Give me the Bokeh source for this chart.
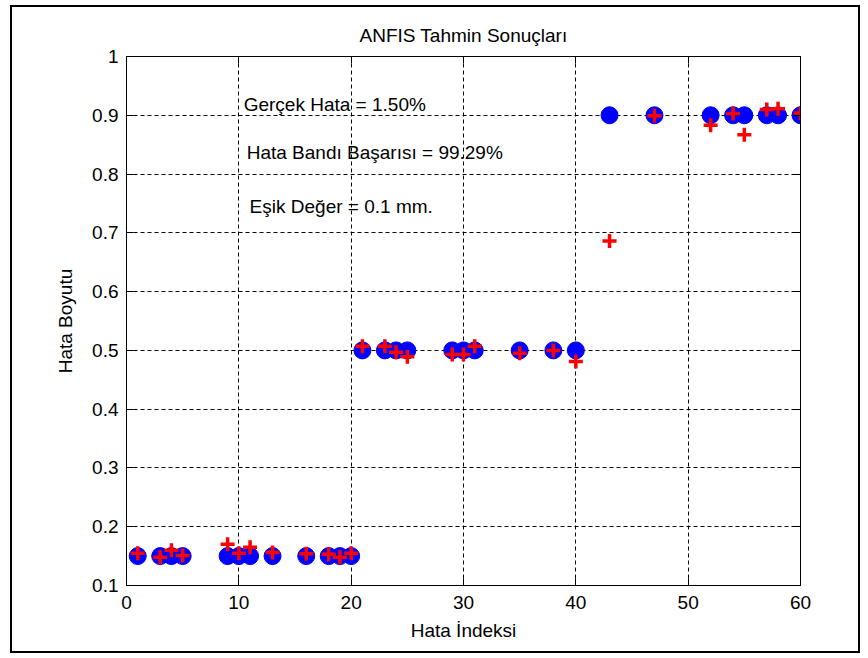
from bokeh.plotting import figure
from bokeh.models import Label, LinearAxis, FixedTicker, Range1d
from bokeh.embed import file_html
from bokeh.resources import INLINE

# ---- data ----
hata_index = [1, 3, 4, 5, 9, 10, 11, 13, 16, 18, 19, 20,
              21, 23, 24, 25, 29, 30, 31, 35, 38, 40,
              43, 47, 52, 54, 55, 57, 58, 60]
gercek = [0.15, 0.15, 0.15, 0.15, 0.15, 0.15, 0.15, 0.15, 0.15, 0.15, 0.15, 0.15,
          0.5, 0.5, 0.5, 0.5, 0.5, 0.5, 0.5, 0.5, 0.5, 0.5,
          0.9, 0.9, 0.9, 0.9, 0.9, 0.9, 0.9, 0.9]
tahmin = [0.155, 0.148, 0.160, 0.151, 0.170, 0.155, 0.165, 0.156, 0.154, 0.153, 0.148, 0.155,
          0.507, 0.507, 0.497, 0.489, 0.493, 0.493, 0.507, 0.495, 0.500, 0.481,
          0.686, 0.899, 0.883, 0.903, 0.867, 0.910, 0.911, 0.904]
x_ticks = [0, 10, 20, 30, 40, 50, 60]
x_tick_labels = ["0", "10", "20", "30", "40", "50", "60"]
y_ticks = [0.1, 0.2, 0.3, 0.4, 0.5, 0.6, 0.7, 0.8, 0.9, 1.0]
y_tick_labels = ["0.1", "0.2", "0.3", "0.4", "0.5", "0.6", "0.7", "0.8", "0.9", "1"]
title_text = "ANFIS Tahmin Sonuçları"
x_label = "Hata İndeksi"
y_label = "Hata Boyutu"
notes = ["Gerçek Hata = 1.50%", "Hata Bandı Başarısı = 99.29%", "Eşik Değer = 0.1 mm."]
note_x = [10.43, 10.7, 10.96]
note_y = [0.918, 0.837, 0.744]

FONT = "Liberation Sans"
FS = "19px"

# inner size of the bordered box (border at x 10..864, y 5..657, 2px wide)
W, H = 850, 648
L, R, T, B = 114, 62, 49, 70
p = figure(width=W, height=H, output_backend="svg", toolbar_location=None,
           x_range=Range1d(0, 60), y_range=Range1d(0.1, 1.0),
           min_border_left=L, min_border_right=R, min_border_top=T, min_border_bottom=B,
           background_fill_color="white", border_fill_color="white",
           styles={"border": "2px solid black", "margin-left": "10px", "margin-top": "5px"})
p.outline_line_color = "black"
p.outline_line_width = 1

p.title.text = title_text
p.title.align = "center"
p.title.text_font = FONT
p.title.text_font_size = FS
p.title.text_font_style = "normal"
p.title.text_color = "black"
p.title.standoff = 21

for ax, ticks, labels in ((p.xaxis[0], x_ticks, x_tick_labels), (p.yaxis[0], y_ticks, y_tick_labels)):
    ax.ticker = FixedTicker(ticks=ticks)
    ax.major_label_overrides = {t: l for t, l in zip(ticks, labels)}
    ax.major_tick_in = 7
    ax.major_tick_out = 0
    ax.minor_tick_line_color = None
    ax.axis_line_color = "black"
    ax.major_tick_line_color = "black"
    ax.major_label_text_font = FONT
    ax.major_label_text_font_size = FS
    ax.major_label_text_color = "black"
    ax.axis_label_text_font = FONT
    ax.axis_label_text_font_size = FS
    ax.axis_label_text_font_style = "normal"
    ax.axis_label_text_color = "black"

p.xaxis.axis_label = x_label
p.xaxis.major_label_standoff = 10
p.xaxis.axis_label_standoff = 8
p.yaxis.axis_label = y_label
p.yaxis.major_label_standoff = 8
p.yaxis.axis_label_standoff = 13

# mirrored tick marks on top and right (no labels)
top_ax = LinearAxis(ticker=FixedTicker(ticks=x_ticks), major_label_text_color=None,
                    major_tick_in=7, major_tick_out=0, minor_tick_line_color=None,
                    axis_line_color="black", major_label_standoff=0)
right_ax = LinearAxis(ticker=FixedTicker(ticks=y_ticks), major_label_text_color=None,
                      major_tick_in=7, major_tick_out=0, minor_tick_line_color=None,
                      axis_line_color="black", major_label_standoff=0)
p.add_layout(top_ax, "above")
p.add_layout(right_ax, "right")

p.xgrid.ticker = FixedTicker(ticks=x_ticks)
p.ygrid.ticker = FixedTicker(ticks=y_ticks)
for g in (p.xgrid[0], p.ygrid[0]):
    g.grid_line_color = "black"
    g.grid_line_dash = "4 3"
    g.grid_line_width = 1
    g.grid_line_alpha = 1.0

p.scatter(hata_index, gercek, marker="circle", size=17, fill_color="#0000ff", line_color="#0000ff")
p.scatter(hata_index, tahmin, marker="cross", size=14, line_color="#ff0000", line_width=3.5)

for txt, nx, ny in zip(notes, note_x, note_y):
    p.add_layout(Label(x=nx, y=ny, text=txt, text_font=FONT, text_font_size=FS,
                       text_baseline="middle", text_align="left", text_color="black"))

open("out.html", "w").write(file_html(p, INLINE))
